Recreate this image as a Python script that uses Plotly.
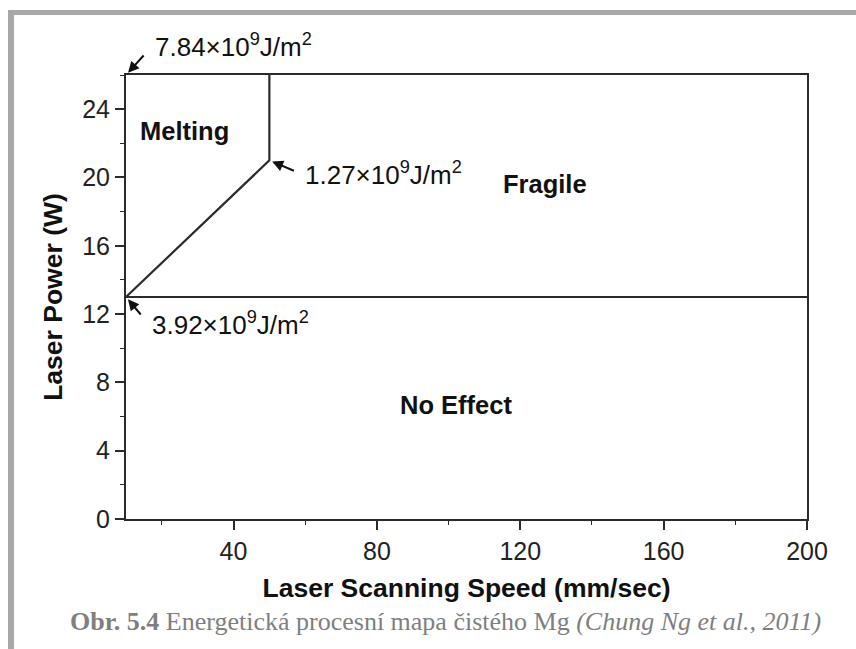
import plotly.graph_objects as go

# Data
melt_boundary_x = [10, 50, 50]
melt_boundary_y = [13, 21, 26]
effect_boundary_x = [10, 200]
effect_boundary_y = [13, 13]

x_ticks = [40, 80, 120, 160, 200]
y_ticks = [0, 4, 8, 12, 16, 20, 24]

region_labels = ["Melting", "Fragile", "No Effect"]
region_x = [13.3, 127, 102]
region_y = [22.7, 19.6, 6.7]

energy_labels = ["7.84×10<sup>9</sup>J/m<sup>2</sup>",
                 "1.27×10<sup>9</sup>J/m<sup>2</sup>",
                 "3.92×10<sup>9</sup>J/m<sup>2</sup>"]
energy_pts_x = [10, 50, 10]
energy_pts_y = [26, 21, 13]

W, H = 856, 649
L, R, T, B = 126, 49, 75, 130
pw, ph = W - L - R, H - T - B

def px(xp):
    return (xp - L) / pw

def py(yp):
    return (H - B - yp) / ph

fig = go.Figure()
line_col = "#2b2b2b"
fig.add_trace(go.Scatter(x=melt_boundary_x, y=melt_boundary_y, mode="lines",
                         line=dict(color=line_col, width=2.2), showlegend=False, hoverinfo="skip"))
fig.add_trace(go.Scatter(x=effect_boundary_x, y=effect_boundary_y, mode="lines",
                         line=dict(color=line_col, width=2.2), showlegend=False, hoverinfo="skip"))

font_main = "Liberation Sans, Arial, sans-serif"

for lab, xv, yv in zip(region_labels, region_x, region_y):
    fig.add_annotation(x=xv, y=yv, text="<b>%s</b>" % lab, showarrow=False,
                       xanchor="left" if lab == "Melting" else "center",
                       font=dict(family=font_main, size=25.5, color="#111"))

# arrows (tail offsets in px) and label positions (px)
arrow_off = [(19, -21), (26, 11), (16, 19)]
text_pos = [(153, 45), (303, 173), (150, 323)]
for lab, xv, yv, (ax, ay), (tx, ty) in zip(energy_labels, energy_pts_x, energy_pts_y, arrow_off, text_pos):
    fig.add_annotation(x=xv, y=yv, ax=ax, ay=ay, text="", showarrow=True,
                       arrowhead=2, arrowsize=1.1, arrowwidth=2, arrowcolor="#111", standoff=3)
    fig.add_annotation(x=px(tx), y=py(ty), xref="paper", yref="paper", text=lab,
                       showarrow=False, xanchor="left", yanchor="middle",
                       font=dict(family=font_main, size=26, color="#111"))

# caption
fig.add_annotation(x=px(823), y=py(621), xref="paper", yref="paper", xanchor="right", yanchor="middle",
                   text="<b>Obr. 5.4</b> Energetická procesní mapa čistého Mg <i>(Chung Ng et al., 2011)</i>",
                   showarrow=False, font=dict(family="Liberation Serif, Times New Roman, serif", size=26, color="#7f7f7f"))

# grey frame
fig.add_shape(type="line", xref="paper", yref="paper", x0=px(8), x1=px(900), y0=py(12.5), y1=py(12.5),
              line=dict(color="#a8a8a8", width=5))
fig.add_shape(type="line", xref="paper", yref="paper", x0=px(11), x1=px(11), y0=py(10), y1=py(700),
              line=dict(color="#a8a8a8", width=6))

axis_common = dict(showline=True, linecolor=line_col, linewidth=2, mirror=True,
                   ticks="outside", ticklen=9, tickwidth=1.5, tickcolor=line_col,
                   showgrid=False, zeroline=False,
                   tickfont=dict(family=font_main, size=25, color="#222"))

fig.update_xaxes(range=[10, 200], tickvals=x_ticks,
                 minor=dict(dtick=20, tick0=0, ticks="outside", ticklen=4, tickcolor=line_col, tickwidth=1.2),
                 title=dict(text="<b>Laser Scanning Speed (mm/sec)</b>", standoff=14,
                            font=dict(family=font_main, size=26.5, color="#111")),
                 **axis_common)
fig.update_yaxes(range=[0, 26], tickvals=y_ticks,
                 minor=dict(dtick=2, tick0=0, ticks="outside", ticklen=4, tickcolor=line_col, tickwidth=1.2),
                 title=dict(text="<b>Laser Power (W)</b>", standoff=12,
                            font=dict(family=font_main, size=26.5, color="#111")),
                 **axis_common)

fig.update_layout(width=W, height=H, margin=dict(l=L, r=R, t=T, b=B),
                  plot_bgcolor="white", paper_bgcolor="white", showlegend=False)

fig.write_html("out.html")
